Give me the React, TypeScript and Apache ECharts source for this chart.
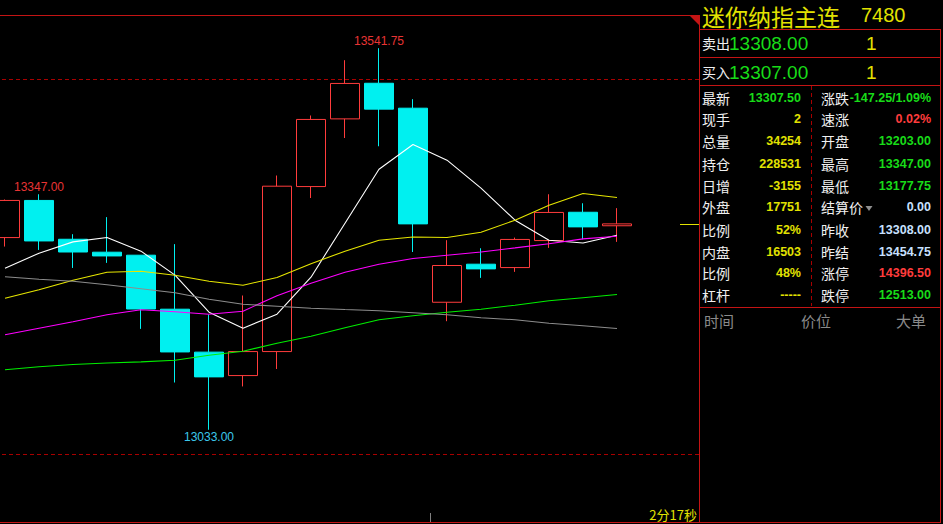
import React, { useEffect, useRef } from "react";
import * as echarts from "echarts";

// ---------- chart data ----------
const categories = [
  "01", "02", "03", "04", "05", "06", "07", "08", "09", "10",
  "11", "12", "13", "14", "15", "16", "17", "18", "19", "20", "21",
];
const opens = [
  13289.25, 13338.75, 13287.0, 13269.75, 13265.75, 13193.75, 13136.5, 13105.25, 13137.25, 13357.25,
  13447.5, 13495.0, 13461.75, 13203.0, 13253.75, 13249.25, 13285.25, 13323.0, 13305.0,
];
const closes = [
  13338.75, 13284.75, 13270.0, 13264.75, 13194.0, 13136.75, 13103.5, 13137.25, 13357.75, 13446.75,
  13494.75, 13460.5, 13307.5, 13252.0, 13247.5, 13286.75, 13322.75, 13303.5, 13307.5,
];
const lows = [
  13277.25, 13272.75, 13248.75, 13255.5, 13167.5, 13096.0, 13033.0, 13090.75, 13114.0, 13342.0,
  13422.0, 13411.0, 13270.0, 13177.75, 13235.5, 13243.5, 13275.5, 13287.0, 13283.5,
];
const highs = [
  13340.0, 13347.0, 13293.75, 13316.5, 13265.75, 13280.5, 13186.75, 13212.0, 13372.0, 13452.0,
  13525.75, 13541.75, 13473.75, 13285.75, 13275.0, 13289.25, 13347.0, 13335.0, 13328.5,
];
const ma5 = [
  13248.4, 13268.4, 13283.5, 13289.3, 13271.1, 13239.1, 13189.7, 13168.4, 13187.1, 13236.4,
  13308.4, 13380.4, 13413.3, 13392.4, 13355.1, 13312.4, 13285.7, 13282.1, 13292.4,
];
const ma10 = [
  13208.4, 13219.7, 13232.4, 13243.1, 13244.4, 13239.1, 13231.1, 13225.7, 13236.0, 13254.4,
  13271.1, 13285.7, 13290.1, 13289.3, 13296.4, 13312.4, 13332.4, 13348.0, 13342.7,
];
const ma20 = [
  13159.7, 13168.4, 13177.1, 13186.4, 13193.1, 13190.4, 13187.1, 13191.1, 13211.7, 13228.4,
  13243.1, 13253.7, 13261.3, 13265.7, 13270.1, 13275.5, 13281.1, 13287.5, 13291.1,
];
const maGreen = [
  13113.1, 13117.1, 13120.0, 13122.1, 13123.5, 13125.7, 13132.4, 13137.7, 13148.4, 13157.7,
  13169.1, 13179.7, 13185.1, 13189.7, 13193.7, 13199.1, 13205.1, 13209.1, 13213.3,
];
const maGray = [
  13237.1, 13233.7, 13231.1, 13226.4, 13221.1, 13215.7, 13207.1, 13200.4, 13197.7, 13195.1,
  13193.3, 13191.7, 13189.1, 13186.4, 13182.4, 13179.7, 13175.1, 13171.7, 13168.0,
];
const refLevels = [13500, 13000];
const yMin = 12910;
const yMax = 13586;

// ---------- quote panel data ----------
const title = "迷你纳指主连";
const titleCode = "7480";
const askLabel = "卖出";
const askPrice = "13308.00";
const askVol = "1";
const bidLabel = "买入";
const bidPrice = "13307.00";
const bidVol = "1";
const leftLabels = ["最新", "现手", "总量", "持仓", "日增", "外盘", "比例", "内盘", "比例", "杠杆"];
const leftValues = ["13307.50", "2", "34254", "228531", "-3155", "17751", "52%", "16503", "48%", "-----"];
const rightLabels = ["涨跌", "速涨", "开盘", "最高", "最低", "结算价", "昨收", "昨结", "涨停", "跌停"];
const rightValues = ["-147.25/1.09%", "0.02%", "13203.00", "13347.00", "13177.75", "0.00", "13308.00", "13454.75", "14396.50", "12513.00"];
const tableHeaders = ["时间", "价位", "大单"];
const countdown = "2分17秒";

// ---------- styles ----------
const GREEN = "#18dc18";
const YELLOW = "#e2e200";
const RED = "#ff3c3c";
const LBLUE = "#c8e0ff";
const WHITE = "#f0f0f0";
const FRAME = "#c41414";
const DASH = "#a80000";
const leftValueColors = [GREEN, YELLOW, YELLOW, YELLOW, YELLOW, YELLOW, YELLOW, YELLOW, YELLOW, YELLOW];
const rightValueColors = [GREEN, RED, GREEN, GREEN, GREEN, LBLUE, LBLUE, LBLUE, RED, GREEN];
const rowY = [97.5, 118.5, 141, 163.5, 185.5, 207, 230, 251.5, 273, 294.5];
const CJK = '"Noto Sans CJK SC", sans-serif';
const NUM = '"Liberation Sans", Arial, sans-serif';

function txt(text: string, x: number, y: number, fill: string, font: string, align = "left") {
  return {
    type: "text",
    x,
    y,
    silent: true,
    z: 100,
    style: { text, fill, font, align, verticalAlign: "middle" },
  };
}
function ln(x1: number, y1: number, x2: number, y2: number, stroke: string, dash?: number[]) {
  return {
    type: "line",
    silent: true,
    z: 100,
    shape: { x1, y1, x2, y2 },
    style: { stroke, lineWidth: 1, lineDash: dash },
  };
}

export default function App() {
  const ref = useRef<HTMLDivElement>(null);
  useEffect(() => {
    const chart = echarts.init(ref.current!, null, { renderer: "svg" });
    const candleData = opens.map((o, i) => [o, closes[i], lows[i], highs[i]]);
    const lineSeries = (data: number[], color: string) => ({
      type: "line",
      data,
      symbol: "none",
      smooth: false,
      silent: true,
      lineStyle: { color, width: 1.1 },
    });
    const mp = (idx: number, value: number, pos: string, color: string) => ({
      coord: [categories[idx], value],
      value,
      label: {
        show: true,
        position: pos,
        distance: 1,
        color,
        fontSize: 12,
        fontFamily: NUM,
        formatter: () => value.toFixed(2),
      },
    });
    chart.setOption({
      animation: false,
      backgroundColor: "#000000",
      grid: { left: -12, top: 15, width: 714, height: 507, outerBoundsMode: "none", containLabel: false },
      xAxis: { type: "category", data: categories, boundaryGap: true, show: false },
      yAxis: { type: "value", min: yMin, max: yMax, show: false, splitLine: { show: false } },
      series: [
        {
          type: "candlestick",
          data: candleData,
          barWidth: 30,
          silent: true,
          itemStyle: {
            color: "#000000",
            color0: "#00f0f0",
            borderColor: RED,
            borderColor0: "#00f0f0",
            borderWidth: 1,
          },
          markLine: {
            silent: true,
            symbol: "none",
            label: { show: false },
            lineStyle: { color: DASH, type: [4, 3], width: 1 },
            data: refLevels.map((v) => ({ yAxis: v })),
          },
          markPoint: {
            symbol: "circle",
            symbolSize: 0,
            silent: true,
            itemStyle: { color: "rgba(0,0,0,0)" },
            data: [
              mp(1, highs[1], "top", "#e83434"),
              mp(11, highs[11], "top", "#e83434"),
              mp(6, lows[6], "bottom", "#3cc8ec"),
            ],
          },
        },
        lineSeries(ma5, "#ffffff"),
        lineSeries(ma10, "#e6e600"),
        lineSeries(ma20, "#ff00ff"),
        lineSeries(maGreen, "#00ee00"),
        lineSeries(maGray, "#8c8c8c"),
      ],
    });

    const lastY = Math.round(chart.convertToPixel({ yAxisIndex: 0 }, closes[closes.length - 1]) as number) + 0.5;

    const els: any[] = [
      { type: "rect", silent: true, z: 90, shape: { x: 700, y: 0, width: 243, height: 524 }, style: { fill: "#000000" } },
      { type: "rect", silent: true, z: 90, shape: { x: 0, y: 0, width: 700, height: 15 }, style: { fill: "#000000" } },
      ln(0, 15.5, 699, 15.5, FRAME),
      ln(699.5, 15, 699.5, 523, FRAME),
      ln(0, 522.5, 941, 522.5, FRAME),
      ln(699, 29.5, 941, 29.5, FRAME),
      ln(699, 57.5, 941, 57.5, FRAME),
      ln(699, 85.5, 941, 85.5, FRAME),
      ln(699, 307.5, 941, 307.5, FRAME),
      ln(940.5, 29, 940.5, 523, FRAME),
      ln(811.5, 86, 811.5, 306, DASH, [4, 3]),
      {
        type: "polygon",
        silent: true,
        z: 100,
        shape: { points: [[689, 15], [700, 15], [700, 26]] },
        style: { fill: FRAME },
      },
      ln(680, lastY, 699, lastY, YELLOW),
      ln(430.5, 513, 430.5, 522, "#808080"),
      txt(countdown, 697, 514, YELLOW, `13px ${CJK}`, "right"),
      txt(title, 702, 15.5, YELLOW, `23px ${CJK}`),
      txt(titleCode, 861, 15, YELLOW, `20px ${NUM}`),
      txt(askLabel, 702, 43, WHITE, `14px ${CJK}`),
      txt(askPrice, 729, 43.5, GREEN, `19px ${NUM}`),
      txt(askVol, 866, 43.5, YELLOW, `19px ${NUM}`),
      txt(bidLabel, 702, 71.5, WHITE, `14px ${CJK}`),
      txt(bidPrice, 729, 72, GREEN, `19px ${NUM}`),
      txt(bidVol, 866, 72, YELLOW, `19px ${NUM}`),
      {
        type: "polygon",
        silent: true,
        z: 100,
        shape: { points: [[865.5, 206], [872.5, 206], [869, 211]] },
        style: { fill: "#909090" },
      },
      txt(tableHeaders[0], 704, 320, "#8a8a8a", `15px ${CJK}`),
      txt(tableHeaders[1], 801, 320, "#8a8a8a", `15px ${CJK}`),
      txt(tableHeaders[2], 896, 320, "#8a8a8a", `15px ${CJK}`),
    ];
    leftLabels.forEach((l, i) => {
      els.push(txt(l, 702, rowY[i], WHITE, `14px ${CJK}`));
      els.push(txt(leftValues[i], 801, rowY[i], leftValueColors[i], `bold 12.5px ${NUM}`, "right"));
    });
    rightLabels.forEach((l, i) => {
      els.push(txt(l, 821, rowY[i], WHITE, `14px ${CJK}`));
      els.push(txt(rightValues[i], 931, rowY[i], rightValueColors[i], `bold 12.5px ${NUM}`, "right"));
    });
    chart.setOption({ graphic: { elements: els } });

    return () => chart.dispose();
  }, []);
  return (
    <div
      ref={ref}
      style={{ position: "fixed", left: 0, top: 0, width: 943, height: 524, background: "#000" }}
    />
  );
}
